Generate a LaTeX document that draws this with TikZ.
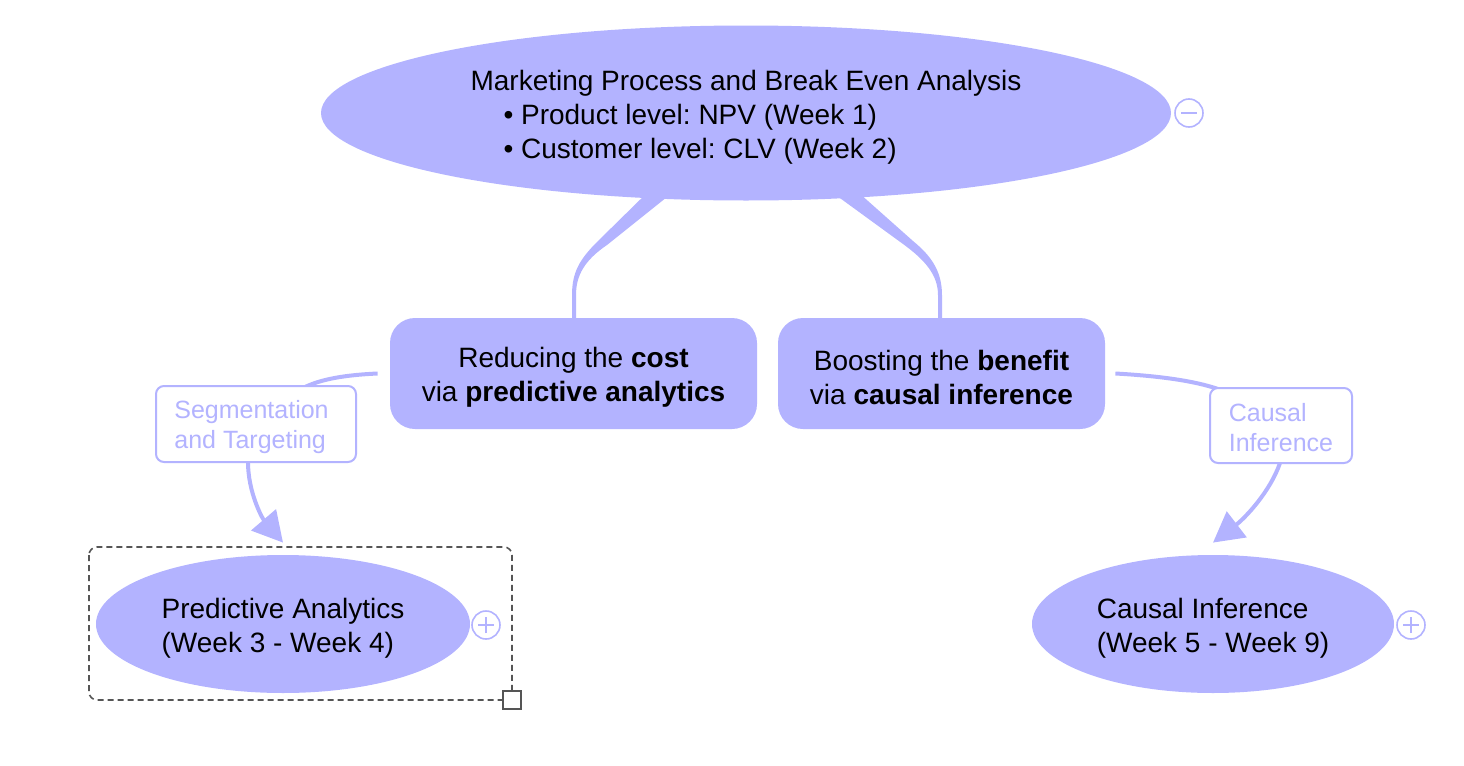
\documentclass[tikz,border=0pt]{standalone}
\usepackage{fontspec}
\setmainfont{Liberation Sans}
\usetikzlibrary{arrows.meta,shapes.geometric}
\definecolor{mind}{HTML}{B3B3FF}
\definecolor{dashgray}{HTML}{555555}
\frenchspacing
\begin{document}
\begin{tikzpicture}[x=0.5pt,y=-0.5pt,
  topic/.style={ellipse, fill=mind, inner sep=0pt},
  subtopic/.style={rectangle, rounded corners=12.5pt, fill=mind, inner sep=0pt},
  txt/.style={inner sep=0pt, font=\fontsize{14}{17}\selectfont},
  lab/.style={rectangle, draw=mind, line width=1pt, rounded corners=4pt, fill=white, inner sep=0pt},
  labtxt/.style={inner sep=0pt, text=mind, font=\fontsize{12.5}{15}\selectfont, align=left},
  conn/.style={draw=mind, line width=2pt},
  tip/.style={-{Triangle[length=15pt,width=16pt]}},
  icon/.style={circle, draw=mind, line width=0.8pt, minimum size=14pt, inner sep=0pt, fill=white},
  branch/.style={fill=mind}]
\useasboundingbox (0,0) rectangle (1464,766);

% tapered branches
\fill[branch] (655,185) -- (597,242) .. controls (580,259) and (572,272) .. (572,295) -- (572,322) -- (576,322) -- (576,295) .. controls (576,275) and (585,260) .. (607,245) -- (682,185) -- cycle;
\fill[branch] (822,185) -- (903,244) .. controls (925,260) and (938,275) .. (938,295) -- (938,322) -- (942,322) -- (942,295) .. controls (942,270) and (930,255) .. (913,241) -- (850,185) -- cycle;

% main topic
\node[topic, minimum width=425pt, minimum height=87.5pt] (top) at (746,113) {};
\node[txt, align=left] (toptxt) at ([yshift=-2pt]top.center)
  {Marketing Process and Break Even Analysis\\
   \hspace*{16.5pt}• Product level: NPV (Week 1)\\
   \hspace*{16.5pt}• Customer level: CLV (Week 2)};
\node[icon] (mtop) at (1189,113) {};
\draw[mind, line width=0.8pt] ([xshift=-4pt]mtop.center) -- ([xshift=4pt]mtop.center);

% subtopics
\node[subtopic, minimum width=183.5pt, minimum height=55.5pt] (L) at (573.5,373.5) {};
\node[txt, align=center] (Ltxt) at ([yshift=-2pt]L.center)
  {Reducing the \textbf{cost}\\via \textbf{predictive analytics}};
\node[subtopic, minimum width=163.5pt, minimum height=55.5pt] (R) at (941.5,373.5) {};
\node[txt, align=center] (Rtxt) at ([yshift=-2pt]R.center)
  {Boosting the \textbf{benefit}\\via \textbf{causal inference}};

% leaf topics
\node[topic, minimum width=187pt, minimum height=69pt] (PA) at (283,624) {};
\node[txt, align=left] (PAtxt) at ([yshift=-2pt]PA.center)
  {Predictive Analytics\\(Week 3 - Week 4)};
\node[topic, minimum width=181pt, minimum height=69pt] (CI) at (1213,624) {};
\node[txt, align=left] (CItxt) at ([yshift=-2pt]CI.center)
  {Causal Inference\\(Week 5 - Week 9)};
\node[icon] (ppa) at (486,625) {};
\draw[mind, line width=0.8pt] ([xshift=-4pt]ppa.center) -- ([xshift=4pt]ppa.center)
  ([yshift=-4pt]ppa.center) -- ([yshift=4pt]ppa.center);
\node[icon] (pci) at (1411,625) {};
\draw[mind, line width=0.8pt] ([xshift=-4pt]pci.center) -- ([xshift=4pt]pci.center)
  ([yshift=-4pt]pci.center) -- ([yshift=4pt]pci.center);

% connectors
\draw[conn] ([xshift=-6pt]L.west) .. controls (345,375) and (322,379) .. (305,387);
\draw[conn, tip] (248,462) .. controls (248,492) and (262,518) .. ([yshift=6pt]PA.north);
\draw[conn] ([xshift=5pt]R.east) .. controls (1160,376) and (1195,381) .. (1218,389);
\draw[conn, tip] (1280,463) .. controls (1270,492) and (1245,518) .. ([yshift=6pt]CI.north);

% label boxes
\node[lab, minimum width=100pt, minimum height=38pt] (seg) at (256,424) {};
\node[labtxt, anchor=west] (segtxt) at ([xshift=9.5pt,yshift=-1.5pt]seg.west) {Segmentation\\and Targeting};
\node[lab, minimum width=71pt, minimum height=37.5pt] (cil) at (1281,425.5) {};
\node[labtxt] (ciltxt) at ([yshift=-0.8pt]cil.center) {Causal\\Inference};

% selection box
\draw[dashgray, line width=0.8pt, dash pattern=on 3pt off 2pt, rounded corners=4pt] (89,547) rectangle (512,700);
\node[rectangle, draw=dashgray, line width=0.8pt, fill=white, minimum size=9pt, inner sep=0pt] (handle) at (512,700) {};
\end{tikzpicture}
\end{document}
